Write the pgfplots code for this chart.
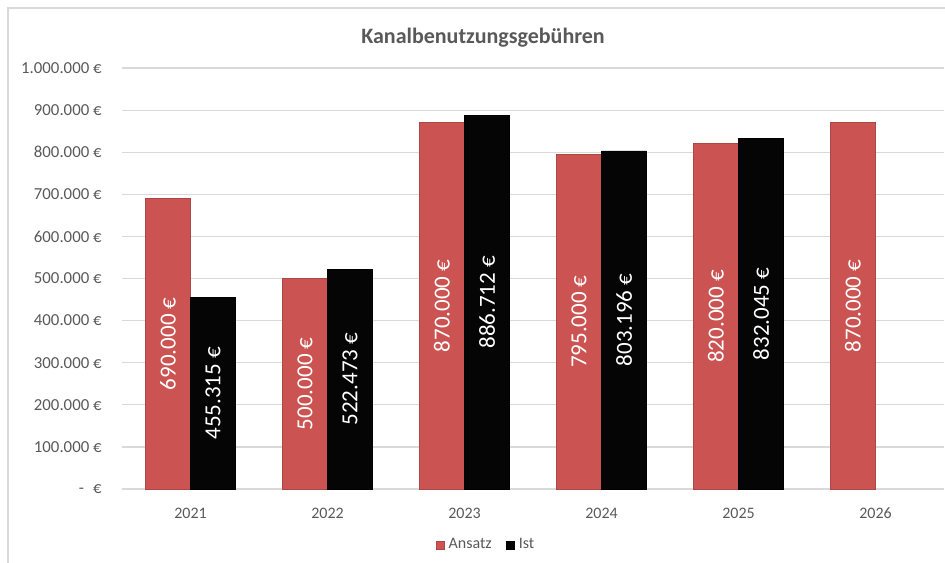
\documentclass[border=0pt]{standalone}
\usepackage{fontspec}
\setmainfont{Carlito}
\usepackage{pgfplots}
\pgfplotsset{compat=1.18}
\usepackage{pgfplotstable}

\definecolor{ansatzred}{RGB}{203,84,82}
\definecolor{istblack}{RGB}{5,5,5}
\definecolor{txtgray}{RGB}{89,89,89}
\definecolor{gridgray}{RGB}{217,217,217}

% Ansatz je Jahr
\pgfplotstableread{
x jahr val
0 2021 690000
1 2022 500000
2 2023 870000
3 2024 795000
4 2025 820000
5 2026 870000
}\ansatz
% Ist je Jahr (2026 fehlt noch)
\pgfplotstableread{
x jahr val
0 2021 455315
1 2022 522473
2 2023 886712
3 2024 803196
4 2025 832045
}\ist

\pgfplotsset{
  sq legend/.style={legend image code/.code={\fill[##1] (0pt,-2.2pt) rectangle (4.2pt,2pt);}},
  barlabel/.style={draw=none, mark=none, forget plot, point meta=explicit,
    nodes near coords={\pgfmathprintnumber[fixed, precision=0, 1000 sep={.}, assume math mode=true]{\pgfplotspointmeta}~€},
    every node near coord/.append style={rotate=90, anchor=center, text=white,
      font=\fontsize{11.5}{13}\selectfont}},
}

\begin{document}
\begin{tikzpicture}
\useasboundingbox (0,0) rectangle (472.5pt,-281pt);
\draw[gridgray, line width=0.7pt] (4pt,-4pt) rectangle (476pt,-285pt);
\node[anchor=base, text=txtgray, font=\bfseries\fontsize{11}{13}\selectfont]
  at (241.5pt,-21.5pt) {Kanalbenutzungsgebühren};
\begin{axis}[
  at={(61pt,-244.5pt)}, anchor=south west,
  scale only axis, width=411pt, height=210.5pt,
  xmin=-0.5, xmax=5.5, ymin=0, ymax=1000000,
  axis line style={draw=none}, major tick length=0pt,
  ymajorgrids, grid style={gridgray, line width=0.6pt},
  xtick=\empty,
  ytick={0,100000,...,1000000},
  yticklabels={{-\hspace{4.5pt}€}, 100.000~€, 200.000~€, 300.000~€, 400.000~€,
    500.000~€, 600.000~€, 700.000~€, 800.000~€, 900.000~€, 1.000.000~€},
  scaled y ticks=false,
  yticklabel style={inner sep=0pt, xshift=-10pt, text=txtgray, font=\fontsize{8.4}{10}\selectfont},
  legend style={at={(0.444,-0.133)}, anchor=center, draw=none, fill=none,
    text=txtgray, font=\fontsize{8}{10}\selectfont, legend columns=2,
    /tikz/every even column/.append style={column sep=5pt}},
  legend cell align=left,
]
\addplot[ybar, bar width=0.33, bar shift=-0.165, fill=ansatzred,
  draw=ansatzred!85!black, line width=0.3pt, sq legend]
  table[x=x, y=val] {\ansatz};
\addlegendentry{Ansatz}
\addplot[ybar, bar width=0.33, bar shift=0.165, fill=istblack,
  draw=black, line width=0.3pt, sq legend]
  table[x=x, y=val] {\ist};
\addlegendentry{Ist}
\addplot[barlabel] table[x expr=\thisrow{x}-0.165, y expr=\thisrow{val}/2, meta=val] {\ansatz};
\addplot[barlabel] table[x expr=\thisrow{x}+0.165, y expr=\thisrow{val}/2, meta=val] {\ist};
% Jahreszahlen unter der Achse
\addplot[draw=none, mark=none, forget plot, point meta=explicit symbolic,
  nodes near coords,
  every node near coord/.style={anchor=base, inner sep=0pt, yshift=-14.5pt,
    text=txtgray, font=\fontsize{8}{10}\selectfont}]
  table[x=x, y expr=0, meta=jahr] {\ansatz};
\end{axis}
\end{tikzpicture}
\end{document}
